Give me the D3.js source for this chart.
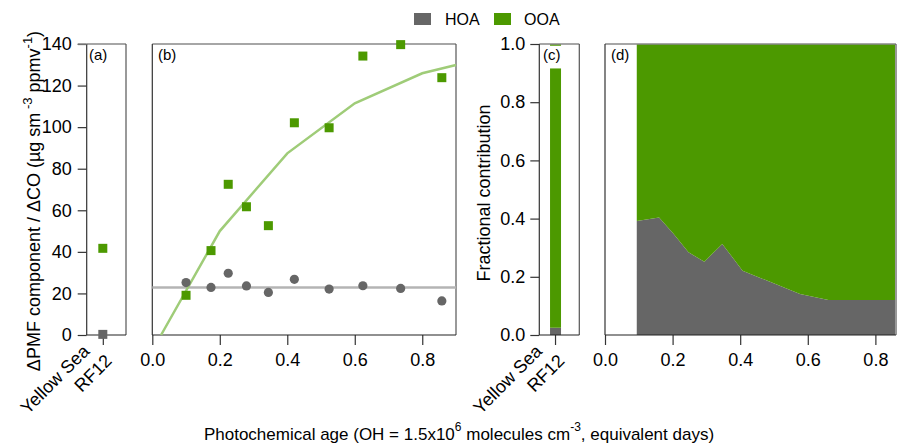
<!DOCTYPE html>
<html><head><meta charset="utf-8">
<script src="https://d3js.org/d3.v7.min.js"></script>
<style>
  body { margin: 0; background: #fff; }
  text { font-family: "Liberation Sans", Arial, sans-serif; }
</style>
</head>
<body>
<svg id="chart" width="897" height="445"></svg>
<script>
// ---- data ----
const siteCats = ["RF12"];
const siteRegion = ["Yellow Sea"];
const siteHOA = [0.3];
const siteOOA = [41.7];

// panel (b): PMF component / dCO vs photochemical age
const ageB = [0.100, 0.174, 0.225, 0.279, 0.344, 0.421, 0.524, 0.624, 0.736, 0.858];
const hoaB = [25.2, 22.9, 29.7, 23.6, 20.5, 26.8, 22.1, 23.7, 22.4, 16.4];
const ooaB = [19.1, 40.6, 72.5, 61.7, 52.6, 102.1, 99.7, 134.2, 139.7, 123.8];
const hoaMean = 22.9;
const fitAge = [0.026, 0.2, 0.4, 0.6, 0.8, 0.9];
const fitOOA = [0, 50, 87.4, 111.5, 125.9, 129.9];

// panel (c): fractional contribution of RF12
const cHOA = [0.025];
const cOOA = [0.891];
const cGap = [0.078];
const cTop = [0.006];

// panel (d): HOA fraction vs age (OOA is the rest)
const ageD = [0.094, 0.160, 0.202, 0.247, 0.294, 0.347, 0.407, 0.577, 0.661, 0.858];
const hoaFracD = [0.392, 0.404, 0.349, 0.284, 0.252, 0.313, 0.221, 0.141, 0.120, 0.120];

const yTicksAbs = [0, 20, 40, 60, 80, 100, 120, 140];
const yTicksFrac = [0.0, 0.2, 0.4, 0.6, 0.8, 1.0];
const xTicksAge = [0.0, 0.2, 0.4, 0.6, 0.8];

const colors = { HOA: "#666666", OOA: "#4c9900" };

// ---- layout ----
const svg = d3.select("#chart");
const plotTop = 44, plotBottom = 335;
const pA = { l: 86.7, r: 126 };
const pB = { l: 152.3, r: 456 };
const pC = { l: 539.3, r: 579.3 };
const pD = { l: 605, r: 896 };

const yAbs = d3.scaleLinear().domain([0, 140]).range([plotBottom, plotTop]);
const yFrac = d3.scaleLinear().domain([0, 1]).range([plotBottom, plotTop]);
const xA = d3.scalePoint().domain(siteCats).range([pA.l, pA.r]).align(0.41);
const xB = d3.scaleLinear().domain([0, 0.9]).range([pB.l, pB.r]);
const xC = d3.scaleBand().domain(siteCats).range([pC.l, pC.r]).paddingInner(0).paddingOuter(1.32).align(0.37);
const xD = d3.scaleLinear().domain([0, 0.861]).range([pD.l, pD.r]);

function frame(p) {
  const g = svg.append("g");
  g.append("line").attr("x1", p.l).attr("x2", p.r).attr("y1", plotTop).attr("y2", plotTop)
    .attr("stroke", "#888").attr("stroke-width", 1.5);
  g.append("line").attr("x1", p.r).attr("x2", p.r).attr("y1", plotTop).attr("y2", plotBottom)
    .attr("stroke", "#555").attr("stroke-width", 1.2);
  g.append("line").attr("x1", p.l).attr("x2", p.l).attr("y1", plotTop).attr("y2", plotBottom)
    .attr("stroke", "#333").attr("stroke-width", 1.2);
  g.append("line").attr("x1", p.l).attr("x2", p.r).attr("y1", plotBottom).attr("y2", plotBottom)
    .attr("stroke", "#222").attr("stroke-width", 1.2);
}

function styleAxis(g) {
  g.select(".domain").remove();
  g.selectAll(".tick line").attr("stroke", "#333").attr("stroke-width", 1.2);
  g.selectAll(".tick text").attr("font-size", 18).attr("fill", "#000")
    .style("font-family", "'Liberation Sans', Arial, sans-serif");
}

function panelLabel(x, txt) {
  svg.append("text").attr("x", x).attr("y", 60).attr("font-size", 15).text(txt);
}

function catLabel(x) {
  const t = svg.append("text")
    .attr("transform", "translate(" + (x + 10) + ",362) rotate(-45)")
    .attr("text-anchor", "end").attr("font-size", 18);
  t.append("tspan").attr("x", -9).attr("y", -22.6).text(siteRegion[0]);
  t.append("tspan").attr("x", 0).attr("y", 0).text(siteCats[0]);
}

// ---- panel (a) ----
svg.append("g").attr("transform", "translate(" + pA.l + ",0)")
  .call(d3.axisLeft(yAbs).tickValues(yTicksAbs).tickSize(9).tickPadding(6).tickSizeOuter(0))
  .call(styleAxis);
svg.append("g").attr("transform", "translate(0," + plotBottom + ")")
  .call(d3.axisBottom(xA).tickSize(10).tickFormat("").tickSizeOuter(0))
  .call(styleAxis);
frame(pA);
svg.append("line").attr("x1", pA.l - 9).attr("x2", pA.l).attr("y1", plotTop).attr("y2", plotTop)
  .attr("stroke", "#888").attr("stroke-width", 1.5);
siteCats.forEach((c, i) => {
  svg.append("rect").attr("x", xA(c) - 4.5).attr("y", yAbs(siteHOA[i]) - 4.5)
    .attr("width", 9).attr("height", 9).attr("fill", colors.HOA);
  svg.append("rect").attr("x", xA(c) - 4.5).attr("y", yAbs(siteOOA[i]) - 4.5)
    .attr("width", 9).attr("height", 9).attr("fill", colors.OOA);
  catLabel(xA(c));
});
panelLabel(89, "(a)");

// ---- panel (b) ----
svg.append("g").attr("transform", "translate(0," + plotBottom + ")")
  .call(d3.axisBottom(xB).tickValues(xTicksAge).tickFormat(d3.format(".1f")).tickSize(10).tickPadding(8).tickSizeOuter(0))
  .call(styleAxis);
frame(pB);
svg.append("line").attr("x1", pB.l).attr("x2", pB.r)
  .attr("y1", yAbs(hoaMean)).attr("y2", yAbs(hoaMean))
  .attr("stroke", "#b4b4b4").attr("stroke-width", 2.5);
const fitLine = d3.line().x(d => xB(d[0])).y(d => yAbs(d[1]));
svg.append("path").datum(d3.zip(fitAge, fitOOA)).attr("d", fitLine)
  .attr("fill", "none").attr("stroke", "#9fcc78").attr("stroke-width", 2.5);
svg.append("g").selectAll("circle").data(d3.zip(ageB, hoaB)).join("circle")
  .attr("cx", d => xB(d[0])).attr("cy", d => yAbs(d[1])).attr("r", 4.6)
  .attr("fill", colors.HOA);
svg.append("g").selectAll("rect").data(d3.zip(ageB, ooaB)).join("rect")
  .attr("x", d => xB(d[0]) - 4.5).attr("y", d => yAbs(d[1]) - 4.5)
  .attr("width", 9).attr("height", 9).attr("fill", colors.OOA);
panelLabel(158, "(b)");

// ---- panel (c) ----
svg.append("g").attr("transform", "translate(" + pC.l + ",0)")
  .call(d3.axisLeft(yFrac).tickValues(yTicksFrac).tickFormat(d3.format(".1f")).tickSize(9).tickPadding(5).tickSizeOuter(0))
  .call(styleAxis);
svg.append("g").attr("transform", "translate(0," + plotBottom + ")")
  .call(d3.axisBottom(xC).tickSize(10).tickFormat("").tickSizeOuter(0))
  .call(styleAxis);
const cRows = siteCats.map((c, i) => ({ cat: c, hoa: cHOA[i], ooa: cOOA[i], gap: cGap[i], ooaTop: cTop[i] }));
const cFill = { hoa: colors.HOA, ooa: colors.OOA, gap: "none", ooaTop: colors.OOA };
const cStack = d3.stack().keys(["hoa", "ooa", "gap", "ooaTop"])(cRows);
svg.append("g").selectAll("g").data(cStack).join("g").attr("fill", s => cFill[s.key])
  .selectAll("rect").data(s => s).join("rect")
  .attr("x", d => xC(d.data.cat)).attr("width", xC.bandwidth())
  .attr("y", d => yFrac(d[1])).attr("height", d => yFrac(d[0]) - yFrac(d[1]));
frame(pC);
siteCats.forEach(c => catLabel(xC(c) + xC.bandwidth() / 2));
panelLabel(543, "(c)");

// ---- panel (d) ----
const dRows = ageD.map((a, i) => ({ age: a, hoa: hoaFracD[i], ooa: 1 - hoaFracD[i] }));
const dStack = d3.stack().keys(["hoa", "ooa"])(dRows);
const area = d3.area().x(d => xD(d.data.age)).y0(d => yFrac(d[0])).y1(d => yFrac(d[1]));
svg.append("g").selectAll("path").data(dStack).join("path")
  .attr("d", area).attr("fill", s => s.key === "hoa" ? colors.HOA : colors.OOA);
svg.append("g").attr("transform", "translate(0," + plotBottom + ")")
  .call(d3.axisBottom(xD).tickValues(xTicksAge).tickFormat(d3.format(".1f")).tickSize(10).tickPadding(8).tickSizeOuter(0))
  .call(styleAxis);
frame(pD);
panelLabel(611, "(d)");

// ---- axis titles ----
const yt = svg.append("text").attr("transform", "translate(40,201) rotate(-90)")
  .attr("text-anchor", "middle").attr("font-size", 18);
yt.append("tspan").text("\u0394PMF component / \u0394CO (\u00b5g sm");
yt.append("tspan").attr("font-size", 13).attr("dy", -8).text("\u00a0-3");
yt.append("tspan").attr("dy", 8).text("\u00a0ppmv");
yt.append("tspan").attr("font-size", 13).attr("dy", -8).text("-1");
yt.append("tspan").attr("dy", 8).text(")");

svg.append("text").attr("transform", "translate(490,193) rotate(-90)")
  .attr("text-anchor", "middle").attr("font-size", 18).text("Fractional contribution");

const xt = svg.append("text").attr("x", 459).attr("y", 440)
  .attr("text-anchor", "middle").attr("font-size", 17);
xt.append("tspan").text("Photochemical age (OH = 1.5x10");
xt.append("tspan").attr("font-size", 12).attr("dy", -9).text("6");
xt.append("tspan").attr("dy", 9).text("\u00a0molecules cm");
xt.append("tspan").attr("font-size", 12).attr("dy", -9).text("-3");
xt.append("tspan").attr("dy", 9).text(", equivalent days)");

// ---- legend ----
const legend = [["HOA", 414, 445], ["OOA", 494, 524]];
legend.forEach(([k, rx, tx]) => {
  svg.append("rect").attr("x", rx).attr("y", 13).attr("width", 17).attr("height", 12).attr("fill", colors[k]);
  svg.append("text").attr("x", tx).attr("y", 24.5).attr("font-size", 16).text(k);
});
</script>
</body></html>
